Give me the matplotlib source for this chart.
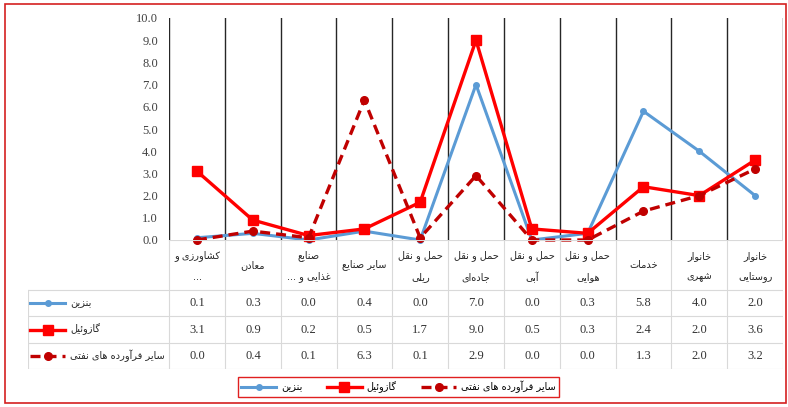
import matplotlib
matplotlib.use("Agg")
import matplotlib.pyplot as plt
from matplotlib.lines import Line2D
from matplotlib.patches import Rectangle

# ---- data ----
categories = [
    ["کشاورزی و", "..."],
    ["معادن"],
    ["صنایع", "غذایی و ..."],
    ["سایر صنایع"],
    ["حمل و نقل", "ریلی"],
    ["حمل و نقل", "جاده‌ای"],
    ["حمل و نقل", "آبی"],
    ["حمل و نقل", "هوایی"],
    ["خدمات"],
    ["خانوار", "شهری"],
    ["خانوار", "روستایی"],
]
series_names = ["بنزین", "گازوئیل", "سایر فرآورده های نفتی"]
benzin = [0.1, 0.3, 0.0, 0.4, 0.0, 7.0, 0.0, 0.3, 5.8, 4.0, 2.0]
gasoil = [3.1, 0.9, 0.2, 0.5, 1.7, 9.0, 0.5, 0.3, 2.4, 2.0, 3.6]
other = [0.0, 0.4, 0.1, 6.3, 0.1, 2.9, 0.0, 0.0, 1.3, 2.0, 3.2]
yticks = [0, 1, 2, 3, 4, 5, 6, 7, 8, 9, 10]

# ---- tiny persian shaper (matplotlib has no complex text layout) ----
DUAL = {  # isolated, final, initial, medial
    "\u0628": "\ufe8f\ufe90\ufe91\ufe92",
    "\u062a": "\ufe95\ufe96\ufe97\ufe98",
    "\u062c": "\ufe9d\ufe9e\ufe9f\ufea0",
    "\u062d": "\ufea1\ufea2\ufea3\ufea4",
    "\u062e": "\ufea5\ufea6\ufea7\ufea8",
    "\u0633": "\ufeb1\ufeb2\ufeb3\ufeb4",
    "\u0634": "\ufeb5\ufeb6\ufeb7\ufeb8",
    "\u0635": "\ufeb9\ufeba\ufebb\ufebc",
    "\u0639": "\ufec9\ufeca\ufecb\ufecc",
    "\u063a": "\ufecd\ufece\ufecf\ufed0",
    "\u0641": "\ufed1\ufed2\ufed3\ufed4",
    "\u0642": "\ufed5\ufed6\ufed7\ufed8",
    "\u0644": "\ufedd\ufede\ufedf\ufee0",
    "\u0645": "\ufee1\ufee2\ufee3\ufee4",
    "\u0646": "\ufee5\ufee6\ufee7\ufee8",
    "\u0647": "\ufee9\ufeea\ufeeb\ufeec",
    "\u0626": "\ufe89\ufe8a\ufe8b\ufe8c",
    "\u06cc": "\ufbfc\ufbfd\ufbfe\ufbff",
    "\u06a9": "\ufb8e\ufb8f\ufb90\ufb91",
    "\u06af": "\ufb92\ufb93\ufb94\ufb95",
}
RIGHT = {  # isolated, final
    "\u0627": "\ufe8d\ufe8e",
    "\u0622": "\ufe81\ufe82",
    "\u062f": "\ufea9\ufeaa",
    "\u0630": "\ufeab\ufeac",
    "\u0631": "\ufead\ufeae",
    "\u0632": "\ufeaf\ufeb0",
    "\u0648": "\ufeed\ufeee",
}


def shape_word(word):
    word = word.replace("\u064a", "\u06cc").replace("\u0643", "\u06a9")
    out = []
    for i, ch in enumerate(word):
        if ch not in DUAL and ch not in RIGHT:
            if ch != "\u200c":
                out.append(ch)
            continue
        prev = word[i - 1] if i > 0 else ""
        nxt = word[i + 1] if i + 1 < len(word) else ""
        jp = prev in DUAL
        jn = ch in DUAL and (nxt in DUAL or nxt in RIGHT)
        forms = DUAL.get(ch) or RIGHT[ch]
        if jp and jn:
            out.append(forms[3])
        elif jp:
            out.append(forms[1])
        elif jn:
            out.append(forms[2])
        else:
            out.append(forms[0])
    return "".join(reversed(out))


def fa(text):
    # right-to-left: first word ends up on the right
    return " ".join(shape_word(w) for w in reversed(text.split(" ")))


FA_FONT = "DejaVu Sans"
NUM_FONT = "Liberation Serif"

W, H = 788, 407
fig = plt.figure(figsize=(W / 100, H / 100), dpi=100)

# outer red frame
fig.patches.append(Rectangle((5 / W, 1 - 403 / H), 781 / W, 399 / H, transform=fig.transFigure,
                             fill=False, edgecolor="#d42020", lw=1.2))

# ---- chart ----
ax = fig.add_axes([169 / W, 1 - 240 / H, 614 / W, 222 / H])
x = list(range(len(categories)))
styles = [
    dict(color="#5b9bd5", lw=2.2, marker="o", ms=4),
    dict(color="#ff0000", lw=2.4, marker="s", ms=7),
    dict(color="#c00000", lw=2.4, marker="o", ms=5.5, dashes=(3, 1.8)),
]
handles = []
for vals, st in zip([benzin, gasoil, other], styles):
    h, = ax.plot(x, vals, clip_on=False, zorder=3, **st)
    handles.append(h)

for b in range(-1, len(categories)):
    ax.axvline(b + 0.5, color="#262626", lw=1.0, zorder=1)

ax.set_xlim(-0.5, len(categories) - 0.5)
ax.set_ylim(0, 10)
ax.set_yticks(yticks)
ax.set_yticklabels([f"{v:.1f}" for v in yticks], fontfamily=NUM_FONT, fontsize=9, color="#404040")
ax.tick_params(axis="y", length=0, pad=8)
ax.set_xticks([])
for s in ax.spines.values():
    s.set_visible(False)

# ---- data table ----
tab = fig.add_axes([28 / W, 1 - 369 / H, 755 / W, 129 / H])
tab.set_xlim(-3.03, len(categories) - 0.5)
tab.set_ylim(369, 240)
tab.axis("off")
gc = "#d9d9d9"
tab.plot([-0.5, len(categories) - 0.5], [240, 240], color=gc, lw=0.8)
for yy in [290, 316, 343, 369]:
    tab.plot([-3.03, len(categories) - 0.5], [yy, yy], color=gc, lw=0.8)
for b in range(-1, len(categories)):
    tab.plot([b + 0.5, b + 0.5], [240, 369], color=gc, lw=0.8)
tab.plot([-3.03, -3.03], [290, 369], color=gc, lw=0.8)

for i, lines in enumerate(categories):
    ys = [265] if len(lines) == 1 else [256, 277]
    for ln, yy in zip(lines, ys):
        tab.text(i, yy, fa(ln), ha="center", va="center", fontsize=7, family=FA_FONT, color="#262626")

row_y = [303, 329.5, 356]
for vals, yy, st, name in zip([benzin, gasoil, other], row_y, styles, series_names):
    for i, v in enumerate(vals):
        tab.text(i, yy, f"{v:.1f}", ha="center", va="center", fontsize=9, family=NUM_FONT, color="#333333")
    tab.add_line(Line2D([-2.99, -2.67, -2.36], [yy, yy, yy], markevery=[1], **st))
    tab.text(-2.27, yy, fa(name), ha="left", va="center", fontsize=7, family=FA_FONT, color="#262626")

# ---- legend ----
leg = fig.legend(handles, [fa(n) for n in series_names], loc="center", bbox_to_anchor=(398.5 / W, 1 - 387 / H),
                 ncol=3, fancybox=False, edgecolor="#e02020", framealpha=1, handlelength=3.6,
                 handletextpad=0.5, columnspacing=2.5, borderpad=0.35, prop={"family": FA_FONT, "size": 7})
leg.get_frame().set_linewidth(1.0)

fig.savefig("out.png", dpi=100)
